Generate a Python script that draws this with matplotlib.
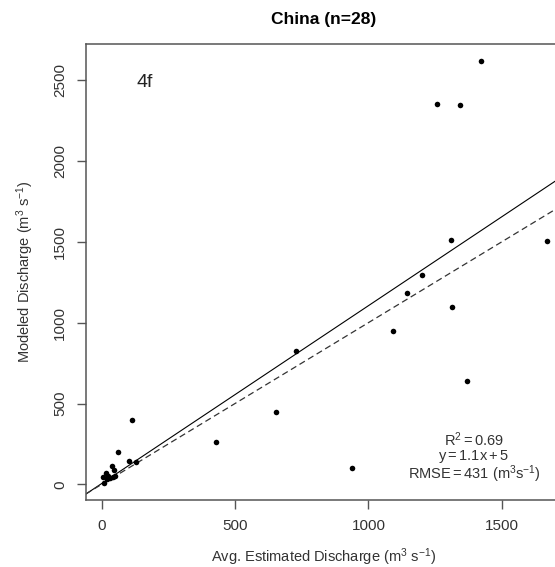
"""
Modeled vs. estimated discharge, China subset
"""

import numpy as np
from matplotlib import pyplot as plt

plt.rcParams["font.family"] = ["Liberation Sans", "DejaVu Sans"]
plt.rcParams["mathtext.fontset"] = "custom"
plt.rcParams["mathtext.rm"] = "Liberation Sans"
plt.rcParams["mathtext.it"] = "Liberation Sans:italic"

# Station values (m3/s)
estimated = [1422, 1258, 1345, 1310, 1669, 1201, 1144, 1312, 1092, 727,
             1371, 654, 938, 430, 114,
             62, 102, 127, 37, 45, 16, 50, 4, 20, 32, 10, 25, 42]
modeled = [2618, 2353, 2345, 1514, 1504, 1295, 1182, 1097, 950, 827,
           641, 445, 101, 264, 400,
           202, 146, 140, 115, 90, 72, 53, 43, 30, 40, 10, 50, 45]

# Fit summary
slope = 1.1
intercept = 5
r2 = 0.69
rmse = 431

xTicks = [0, 500, 1000, 1500]
yTicks = [0, 500, 1000, 1500, 2000, 2500]

W, H = 555, 567
fig = plt.figure(figsize=(W / 100, H / 100), dpi=100)
ax = fig.add_axes([85.7 / W, 1 - 500 / H, (562 - 85.7) / W, (500 - 43.7) / H])

ax.plot(estimated, modeled, "o", color="black", ms=4, mec="none", zorder=3)
ax.axline((0, intercept), slope=slope, color="black", lw=0.8)
ax.axline((0, 0), slope=1, color="#333333", lw=0.9, ls=(0, (5, 3)))

ax.set_xlim(-60, 1726)
ax.set_ylim(-97, 2726)
ax.set_xticks(xTicks)
ax.set_yticks(yTicks)

for s in ax.spines.values():
    s.set_color("#555555")
    s.set_linewidth(1.1)
ax.tick_params(length=6.5, width=1, color="#555555", pad=7,
               labelsize=11, labelcolor="#333333")
for lab in ax.get_yticklabels():
    lab.set_rotation(90)
    lab.set_verticalalignment("center")

unit = r"$\mathregular{(m^3\ s^{-1})}$"
ax.set_title("China (n=28)", fontsize=12.5, fontweight="bold", pad=14)
ax.set_xlabel("Avg. Estimated Discharge " + unit, fontsize=10.5, color="#333333", labelpad=10)
ax.set_ylabel("Modeled Discharge " + unit, fontsize=10.5, color="#333333", labelpad=12)

ax.text(162, 2489, "4f", fontsize=14, ha="center", va="center", color="#222222")
ax.text(1396, 274, r"$\mathregular{R^2 = %.2f}$" % r2, fontsize=10.5, ha="center", va="center", color="#333333")
ax.text(1396, 175, r"$\mathregular{y = %.1fx + %d}$" % (slope, intercept), fontsize=10.5,
        ha="center", va="center", color="#333333")
ax.text(1396, 64, r"$\mathregular{RMSE = %d\ (m^3s^{-1})}$" % rmse, fontsize=10.5,
        ha="center", va="center", color="#333333")

plt.savefig("out.png", dpi=100)
